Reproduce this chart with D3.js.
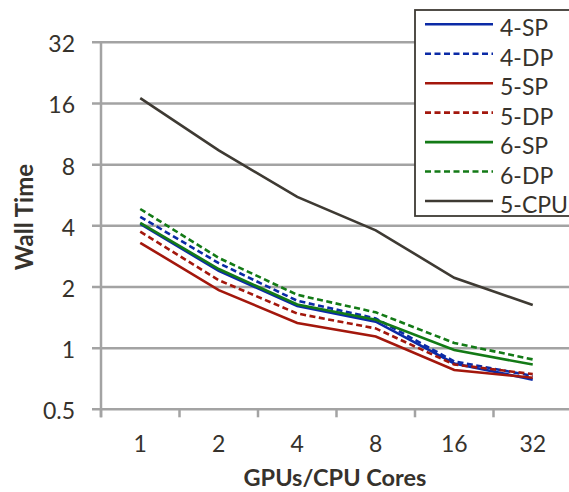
<!DOCTYPE html>
<html>
<head>
<meta charset="utf-8">
<script src="https://cdn.jsdelivr.net/npm/d3@7"></script>
<style>
  html, body { margin: 0; padding: 0; background: #fff; }
  svg { display: block; }
  text { font-family: Lato, "Open Sans", sans-serif; fill: #36322c; }
</style>
</head>
<body>
<svg id="chart" width="569" height="492"></svg>
<script>
// Processor counts along the x axis
const categories = ["1", "2", "4", "8", "16", "32"];

// Wall time per configuration
const s4SP  = [4.09, 2.40, 1.61, 1.35, 0.84, 0.70];
const s4DP  = [4.43, 2.62, 1.71, 1.40, 0.86, 0.73];
const s5SP  = [3.30, 1.93, 1.33, 1.14, 0.78, 0.715];
const s5DP  = [3.74, 2.16, 1.48, 1.25, 0.83, 0.745];
const s6SP  = [4.14, 2.45, 1.64, 1.38, 0.98, 0.83];
const s6DP  = [4.84, 2.78, 1.83, 1.50, 1.06, 0.88];
const s5CPU = [17.0, 9.4, 5.55, 3.80, 2.22, 1.63];

const seriesNames = ["4-SP", "4-DP", "5-SP", "5-DP", "6-SP", "6-DP", "5-CPU"];
const seriesValues = [s4SP, s4DP, s5SP, s5DP, s6SP, s6DP, s5CPU];

const yTicks = [0.5, 1, 2, 4, 8, 16, 32];

const colors = {
  "4-SP": "#0b2aa6", "4-DP": "#0b2aa6",
  "5-SP": "#a3170c", "5-DP": "#a3170c",
  "6-SP": "#137a16", "6-DP": "#137a16",
  "5-CPU": "#3e3a33"
};
const dashed = { "4-DP": true, "5-DP": true, "6-DP": true };

const svg = d3.select("#chart");
const gridColor = "#a3a3a3";

const x = d3.scaleBand().domain(categories).range([101, 572]);
const y = d3.scaleLog().base(2).domain([0.5, 32]).range([409.3, 42.3]);

// Horizontal gridlines
svg.append("g")
  .selectAll("line")
  .data(yTicks)
  .join("line")
  .attr("x1", 92)
  .attr("x2", 575)
  .attr("y1", d => y(d))
  .attr("y2", d => y(d))
  .attr("stroke", gridColor)
  .attr("stroke-width", 2.5);

// Left axis line
svg.append("line")
  .attr("x1", 101).attr("x2", 101)
  .attr("y1", y(32) - 1).attr("y2", y(0.5) + 8)
  .attr("stroke", gridColor).attr("stroke-width", 2.5);

// Y tick labels
const yAxis = d3.axisLeft(y)
  .tickValues(yTicks)
  .tickFormat(d => String(d))
  .tickSize(0)
  .tickPadding(0);
const gy = svg.append("g").attr("transform", "translate(75,2)").call(yAxis);
gy.select(".domain").remove();
gy.selectAll("text")
  .attr("font-size", 23)
  .attr("font-family", "Lato, 'Open Sans', sans-serif")
  .attr("fill", "#36322c");

// X tick marks at band boundaries
const bounds = categories.map(c => x(c)).concat([x.range()[1]]);
svg.append("g")
  .selectAll("line")
  .data(bounds)
  .join("line")
  .attr("x1", d => d).attr("x2", d => d)
  .attr("y1", y(0.5)).attr("y2", y(0.5) + 8)
  .attr("stroke", gridColor).attr("stroke-width", 2.5);

// X tick labels
const xAxis = d3.axisBottom(x).tickSize(0).tickPadding(0);
const gx = svg.append("g").attr("transform", "translate(0,436)").call(xAxis);
gx.select(".domain").remove();
gx.selectAll("text")
  .attr("font-size", 23)
  .attr("font-family", "Lato, 'Open Sans', sans-serif")
  .attr("fill", "#36322c");

// Series lines
const line = d3.line()
  .x((d, i) => x(categories[i]) + x.bandwidth() / 2)
  .y(d => y(d));

seriesNames.forEach((name, k) => {
  svg.append("path")
    .datum(seriesValues[k])
    .attr("d", line)
    .attr("fill", "none")
    .attr("stroke", colors[name])
    .attr("stroke-width", 2.6)
    .attr("stroke-dasharray", dashed[name] ? "6,3.5" : null);
});

// Axis titles
svg.append("text")
  .attr("transform", "translate(33,217) rotate(-90)")
  .attr("text-anchor", "middle")
  .attr("font-size", 24)
  .attr("font-weight", "bold")
  .text("Wall Time");

svg.append("text")
  .attr("x", 335).attr("y", 486)
  .attr("text-anchor", "middle")
  .attr("font-size", 23.5)
  .attr("font-weight", "bold")
  .text("GPUs/CPU Cores");

// Legend
const legend = svg.append("g");
legend.append("rect")
  .attr("x", 415).attr("y", 10)
  .attr("width", 170).attr("height", 206)
  .attr("fill", "#fff")
  .attr("stroke", "#3e3a33")
  .attr("stroke-width", 1.8);

seriesNames.forEach((name, k) => {
  const ly = 24.3 + k * 29.45;
  legend.append("line")
    .attr("x1", 425).attr("x2", 493)
    .attr("y1", ly).attr("y2", ly)
    .attr("stroke", colors[name])
    .attr("stroke-width", 2.6)
    .attr("stroke-dasharray", dashed[name] ? "6,3.5" : null);
  legend.append("text")
    .attr("x", 500).attr("y", ly + 12)
    .attr("font-size", 23)
    .text(name);
});
</script>
</body>
</html>
